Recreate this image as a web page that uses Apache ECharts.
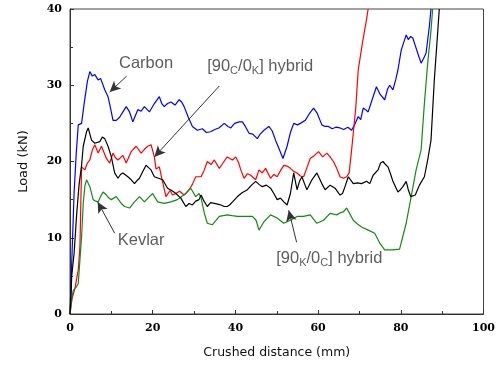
<!DOCTYPE html>
<html><head><meta charset="utf-8">
<script src="https://cdn.jsdelivr.net/npm/echarts@6/dist/echarts.min.js"></script>
<style>html,body{margin:0;padding:0;background:#fff}#c{width:498px;height:365px}</style>
</head><body><div id="c"></div>
<script>
var xTicks = [0, 20, 40, 60, 80, 100];
var yTicks = [0, 10, 20, 30, 40];

var carbon = [[0,0],[0.5,8],[1,16],[1.5,21],[2,24.8],[2.8,25],[3.4,27.5],[4.2,30.5],[4.8,31.8],[5.4,31.2],[6,31.4],[6.8,30.7],[7.4,30.9],[8.4,29.4],[9.2,28.5],[9.8,27],[10.4,25.4],[11.2,25.4],[12,25.8],[12.8,26.5],[13.6,27.2],[14.4,26.5],[15.2,25.2],[16.4,26.8],[17.2,26.6],[18,27.2],[19.2,26.5],[20.4,27.6],[21.6,28.5],[22.2,27.6],[22.8,27.2],[23.6,27.6],[24.4,27.8],[25.4,27.4],[26.4,28.1],[27,27.8],[27.6,27.2],[28.6,25.8],[29.6,24.6],[30.8,24.1],[32,24.3],[33,23.8],[34,23.9],[35,24.2],[36,24.4],[37.3,25],[38.2,24.6],[38.9,24.4],[39.8,25],[40.9,25.2],[41.7,25.2],[42.4,24.6],[43.3,23.7],[44.2,23.6],[45.3,23],[46,23.6],[46.9,24.1],[48.1,24.6],[48.9,24],[49.7,22.8],[50.6,21.6],[51.5,20.4],[52.5,22],[53.3,23.8],[54.1,25],[55,24.8],[55.7,25],[56.9,25.4],[57.8,26.2],[58.9,27],[59.8,26.3],[60.9,24.8],[61.7,24.6],[62.5,24.6],[63.4,24.3],[64.3,24.5],[65.3,24.4],[66.2,24.2],[67.2,24.5],[68.1,24.1],[68.8,24.8],[69.7,25.9],[70.3,25.5],[70.9,27],[71.5,26.8],[72.1,26.5],[73,28],[74.1,29.8],[75,28.8],[76.1,28.1],[76.8,29.5],[77.3,30],[78.1,29.4],[78.8,30.8],[79.3,32],[80.1,34.6],[81.3,36.6],[81.8,36],[82.4,36.4],[82.9,36.2],[83.5,35.2],[84.1,34.2],[84.9,32.9],[85.5,33.5],[86.1,34.2],[86.9,37.7],[87.3,40]];

var hybridCK = [[0,0],[0.5,2],[1.2,3.4],[2,5.8],[2.4,8.8],[2.6,14],[2.8,19.3],[3.6,18.9],[4.2,19.8],[4.8,20.2],[5.4,21.5],[6,22.2],[6.8,21.1],[7.6,22],[8.2,21.2],[8.8,20.4],[9.6,19.8],[10.4,21.1],[11,20.5],[11.6,20.2],[12.8,20.8],[13.6,19.8],[14.8,21.3],[16,22],[17.2,21.1],[18,21.6],[18.8,22],[19.6,22.2],[20.4,20.6],[20.8,19],[21.6,19.3],[22.2,17.8],[23.2,15.4],[24.2,16.2],[24.8,15.6],[25.6,15.8],[26.5,16.1],[27.6,15.6],[28.8,16.3],[29.6,17],[30.4,18],[31.7,18],[32.4,18.8],[33.2,20],[34.1,19.6],[34.9,20.2],[36.1,19.1],[37,19.8],[38,20.6],[39.3,20.2],[40.1,20.6],[40.8,19.8],[41.3,18.9],[42.1,17.8],[42.9,18.4],[43.7,18.2],[44.9,17.6],[45.7,18.9],[46.5,18.5],[47.3,19.1],[48.5,17.8],[49.3,18.3],[50.1,18],[50.9,18.8],[51.7,19.5],[52.5,19.4],[53.3,19.1],[54.1,18.7],[54.9,18.5],[55.7,18.1],[56.5,18],[57.3,19.2],[58.1,20.4],[59.1,20.8],[60.1,21.3],[61.1,20.6],[62.1,21.1],[62.9,20.6],[63.7,20],[64.5,19.1],[65.3,18],[66.1,17.8],[66.9,18],[67.5,18.5],[68.1,21.5],[69.1,27],[69.7,32],[70.7,35.5],[71.7,38.6],[72.1,40]];

var hybridKC = [[0,0],[0.3,3],[0.4,4.9],[1,8],[1.6,13],[2.2,17],[2.8,19.5],[3.2,22],[4,23.9],[4.4,24.4],[5.2,22.8],[6,22.4],[7.2,22.6],[7.8,23.2],[8.4,23],[9.2,22],[10,20.6],[10.8,18.5],[11.6,17.8],[12.2,18.3],[12.8,18.5],[14,18],[14.8,17.6],[15.6,17.1],[16.2,17.5],[16.8,17.8],[17.6,18.7],[18.4,19.5],[19,19.2],[19.6,18.9],[20.4,18],[21.4,17.8],[22.4,17.6],[23.6,16.5],[24.6,16.2],[25.6,15.8],[26.8,15.2],[28,14.1],[28.8,14.5],[29.6,14.3],[30.4,14.8],[31.2,15],[31.7,15.6],[32.4,14.8],[33.2,14.1],[34,14.6],[34.9,14.5],[35.7,14.4],[36.5,14.3],[37.3,14.1],[38,14.1],[38.6,14.3],[39.3,14.7],[40.5,15.4],[41.6,15.9],[42.9,16.3],[43.9,16.9],[44.9,17.4],[45.7,17],[46.5,16.7],[47.5,16.9],[48.5,16.5],[49.3,15.8],[50.1,15],[50.9,15.2],[51.7,14.7],[52.5,14.3],[53.3,15.8],[54.1,18.5],[54.9,16.3],[55.5,17.4],[56.1,18],[56.7,17.1],[57.3,16.3],[58.5,17.6],[59.7,18.5],[60.3,17.8],[60.9,17.1],[61.7,16.3],[62.9,16.9],[64.1,16.5],[65.3,15.6],[65.9,15.8],[66.5,16.7],[67.3,18],[68.5,17.1],[69.5,17.2],[70.5,17.1],[71.7,17.4],[72.5,17.1],[73.3,18.2],[74.5,18.9],[75.1,19.8],[75.7,20],[76.3,19.6],[76.9,19.3],[77.5,18.4],[78.1,17.4],[79.3,16],[79.9,16.3],[80.5,16.7],[81.3,17.4],[81.8,16.3],[82.4,15.4],[83.5,15.6],[84.5,16.9],[85.7,18],[86.5,20.2],[87.3,22.8],[88.1,30.7],[88.9,36.8],[89.3,40]];

var kevlar = [[0,0],[0.4,2],[0.8,3.1],[1.6,3.6],[2,4],[2.4,7.1],[2.8,10.1],[3.2,14.5],[3.6,16.8],[4,17.6],[4.8,16.7],[5.6,15],[6.2,14.8],[6.8,14.7],[7.4,15.4],[8,16],[8.8,15.6],[9.4,15.2],[10,15],[11.2,15.4],[12.4,14.5],[13.2,14.1],[14.4,13.9],[15.6,14.7],[16.8,15.4],[18,14.7],[19.2,15.4],[20,15.8],[21.2,14.7],[22.8,14.5],[24.4,14.7],[26,15],[27,15.4],[28,15.8],[29.2,16.5],[30.4,15.4],[31.2,15.8],[31.7,15.2],[32.5,13.2],[33.2,11.9],[34.4,11.7],[35.2,12.2],[36.1,12.8],[38,13],[39.2,12.9],[40.5,12.8],[42.1,12.8],[44.1,12.8],[45,12.3],[45.7,11],[46.9,12.1],[48.5,13],[50.1,12.6],[51.7,11.9],[53.3,12.3],[54.9,12.8],[56.5,12.8],[58.1,13],[59.7,11.9],[61.3,12.3],[62.9,13.2],[64.5,13],[65.5,13.3],[66.1,13.4],[66.9,13.9],[67.7,13.1],[68.5,12.3],[69.5,11.8],[70.5,11.4],[72.1,11],[73.7,10.6],[74.9,9.3],[76.1,8.4],[78,8.4],[79.7,8.5],[81.3,11.9],[82.5,15.4],[83.7,18.9],[84.9,21.5],[85.7,27.6],[86.5,32.9],[87.3,37.2],[87.7,40]];

// annotation text: [x, y, label]
var notes = [
  [18.4, 32.9, 'Carbon'],
  [46.0, 32.4, '[90{s|C}/0{s|K}] hybrid'],
  [17.2, 9.7, 'Kevlar'],
  [62.7, 7.3, '[90{s|K}/0{s|C}] hybrid']
];
// arrows: [fromX, fromY, toX, toY]
var arrows = [
  [13.7, 31.2, 9.6, 29.1],
  [36.1, 29.9, 20.4, 20.6],
  [10.8, 10.6, 6.7, 14.7],
  [54.8, 9.4, 52.9, 13.6]
];

var chart = echarts.init(document.getElementById('c'), null, {renderer: 'canvas'});
var tickFont = {fontFamily: 'DejaVu Serif', fontWeight: 'bold', fontSize: 11, color: '#000'};
function axisCommon(extra) {
  return Object.assign({
    axisLine: {show: true, lineStyle: {color: '#333', width: 1}},
    axisTick: {show: true, inside: true, length: 4, lineStyle: {color: '#333'}},
    minorTick: {show: true, splitNumber: 2, length: 3, lineStyle: {color: '#333'}},
    splitLine: {show: false},
    minorSplitLine: {show: false}
  }, extra);
}
function line(name, data, color) {
  return {name: name, type: 'line', data: data, showSymbol: false, symbol: 'none',
    lineStyle: {color: color, width: 1.2}, itemStyle: {color: color}, animation: false, z: 3};
}
var blackSeries = line('[90K/0C] hybrid', hybridKC, '#000000');
blackSeries.markLine = {
  silent: true, animation: false, symbol: ['none', 'arrow'], symbolSize: [8, 11],
  label: {show: false},
  lineStyle: {color: '#333', width: 1, type: 'solid'},
  data: arrows.map(function (a) { return [{coord: [a[0], a[1]]}, {coord: [a[2], a[3]]}]; })
};
chart.setOption({
  animation: false,
  backgroundColor: '#fff',
  grid: {left: 70, right: 12, top: 9, bottom: 51, show: true, borderColor: '#444', borderWidth: 1, backgroundColor: 'transparent'},
  xAxis: axisCommon({
    type: 'value', min: xTicks[0], max: xTicks[xTicks.length - 1], interval: 20,
    axisLabel: Object.assign({margin: 9}, tickFont),
    name: 'Crushed distance (mm)', nameLocation: 'middle', nameGap: 32,
    nameTextStyle: {fontFamily: 'DejaVu Sans', fontSize: 12.5, color: '#111'}
  }),
  yAxis: axisCommon({
    type: 'value', min: yTicks[0], max: yTicks[yTicks.length - 1], interval: 10,
    axisLabel: Object.assign({margin: 8}, tickFont),
    name: 'Load (kN)', nameLocation: 'middle', nameGap: 40,
    nameTextStyle: {fontFamily: 'DejaVu Sans', fontSize: 13, color: '#111'}
  }),
  series: [
    line('Carbon', carbon, '#0000ff'),
    line('[90C/0K] hybrid', hybridCK, '#ff0000'),
    line('Kevlar', kevlar, '#138a13'),
    blackSeries,
    {
      type: 'scatter', silent: true, animation: false, symbolSize: 1, z: 5,
      itemStyle: {color: 'transparent'},
      data: notes.map(function (n) { return {value: [n[0], n[1]], label: {formatter: n[2]}}; }),
      label: {
        show: true, position: 'inside', color: '#333',
        fontFamily: 'Liberation Sans', fontSize: 16.5, lineHeight: 20,
        rich: {s: {fontFamily: 'Liberation Sans', fontSize: 11, lineHeight: 11, verticalAlign: 'bottom', color: '#333'}}
      }
    }
  ]
});
</script></body></html>
